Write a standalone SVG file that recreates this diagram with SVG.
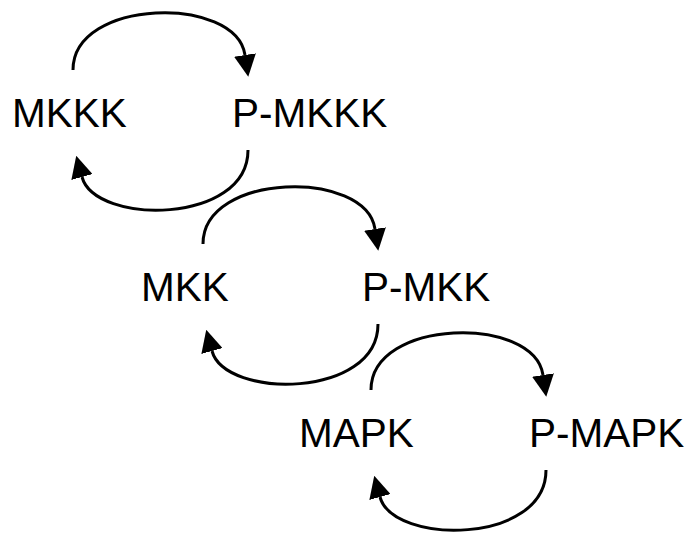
<svg xmlns="http://www.w3.org/2000/svg" width="690" height="536" viewBox="0 0 690 536">
<style>
.lbl{font-family:"Liberation Sans",Arial,sans-serif;font-size:40.5px;fill:#000}
.arc{fill:none;stroke:#000;stroke-width:3}
</style>
<defs>
<marker id="ah" markerUnits="userSpaceOnUse" markerWidth="22" markerHeight="22" refX="0" refY="10.5" orient="auto" viewBox="0 0 21 21">
<path d="M0,0 L21,10.5 L0,21 z" fill="#000"/>
</marker>
</defs>
<rect width="690" height="536" fill="#fff"/>
<g id="connectors">
<g id="cycle1">
<path class="arc" marker-end="url(#ah)" d="M73,70 C73,-2 236,-5 245,55"/>
<path class="arc" marker-end="url(#ah)" d="M248,150 C248,225 95,225 82,177"/>
</g>
<g id="cycle2" transform="translate(130,174)">
<path class="arc" marker-end="url(#ah)" d="M73,70 C73,-2 236,-5 245,55"/>
<path class="arc" marker-end="url(#ah)" d="M248,150 C248,225 95,225 82,177"/>
</g>
<g id="cycle3" transform="translate(298,320)">
<path class="arc" marker-end="url(#ah)" d="M73,70 C73,-2 236,-5 245,55"/>
<path class="arc" marker-end="url(#ah)" d="M248,150 C248,225 95,225 82,177"/>
</g>
</g>
<g id="MKKK"><text class="lbl" x="12" y="127">MKKK</text></g>
<g id="P-MKKK"><text class="lbl" x="232" y="127">P-MKKK</text></g>
<g id="MKK"><text class="lbl" x="141" y="301">MKK</text></g>
<g id="P-MKK"><text class="lbl" x="362" y="301">P-MKK</text></g>
<g id="MAPK"><text class="lbl" x="299" y="447">MAPK</text></g>
<g id="P-MAPK"><text class="lbl" x="529" y="447">P-MAPK</text></g>
</svg>
